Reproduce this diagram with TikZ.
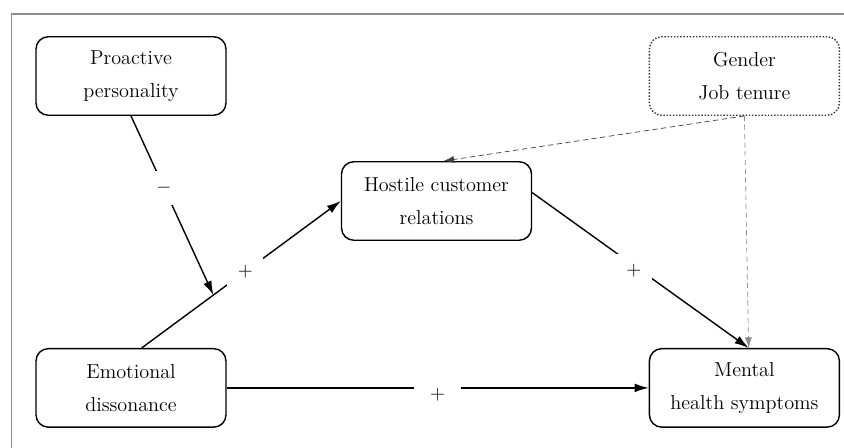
\documentclass[tikz,border=0pt]{standalone}
\usepackage{amsmath}
\usepackage{tikz}
\usetikzlibrary{positioning,arrows.meta}
\tikzset{node distance=4.64cm, >={Latex[length=8pt,width=5pt]},
  box/.style={draw, rounded corners=7pt, thick, minimum width=3.8cm, minimum height=1.57cm,
    align=center, font=\fontsize{11.5}{19}\selectfont},
  ctrl/.style={box, draw=black!80, densely dotted},
  sign/.style={fill=white, inner sep=6pt, font=\fontsize{11}{13}\selectfont},
  ctrlline/.style={-{Latex[length=6pt,width=4pt]}, dash pattern=on 3pt off 2pt}}

\begin{document}
\begin{tikzpicture}

             \useasboundingbox (0,0) rectangle (16.88,-8.96);
             \draw [black!45, thick] (0.23,-8.96) -- (0.23,-0.28) -- (16.88,-0.28);

             \node [box] (PP) at (2.62,-1.52) {Proactive\\personality};
             \node [box] (ED) [below=of PP] {Emotional\\dissonance};
             \node [box] (MHS) [right=8.44cm of ED] {Mental\\health symptoms};
             \node [ctrl] (GJ) [above=of MHS] {Gender\\Job tenure};

             \node [box] (HCR) at (8.73,-4.02) {Hostile customer\\relations};

             \draw [->, thick] (ED.75) -- coordinate[pos=0.36] (m)
                   node [sign, pos=0.52] {$+$} (HCR.west);
             \draw [->, thick] (PP.south) -- node [sign, pos=0.4] {$-$} (m);
             \draw [->, thick] (HCR.5) -- node [sign, pos=0.47, yshift=-3pt] {$+$} (MHS.84);
             \draw [->, thick] (ED) -- node [sign, yshift=-4pt, inner xsep=9pt] {$+$} (MHS);

             \draw [ctrlline, black!75] (GJ.south) -- (HCR.80);
             \draw [ctrlline, black!45] (GJ.south) -- (MHS.84);
          \end{tikzpicture}
\end{document}
